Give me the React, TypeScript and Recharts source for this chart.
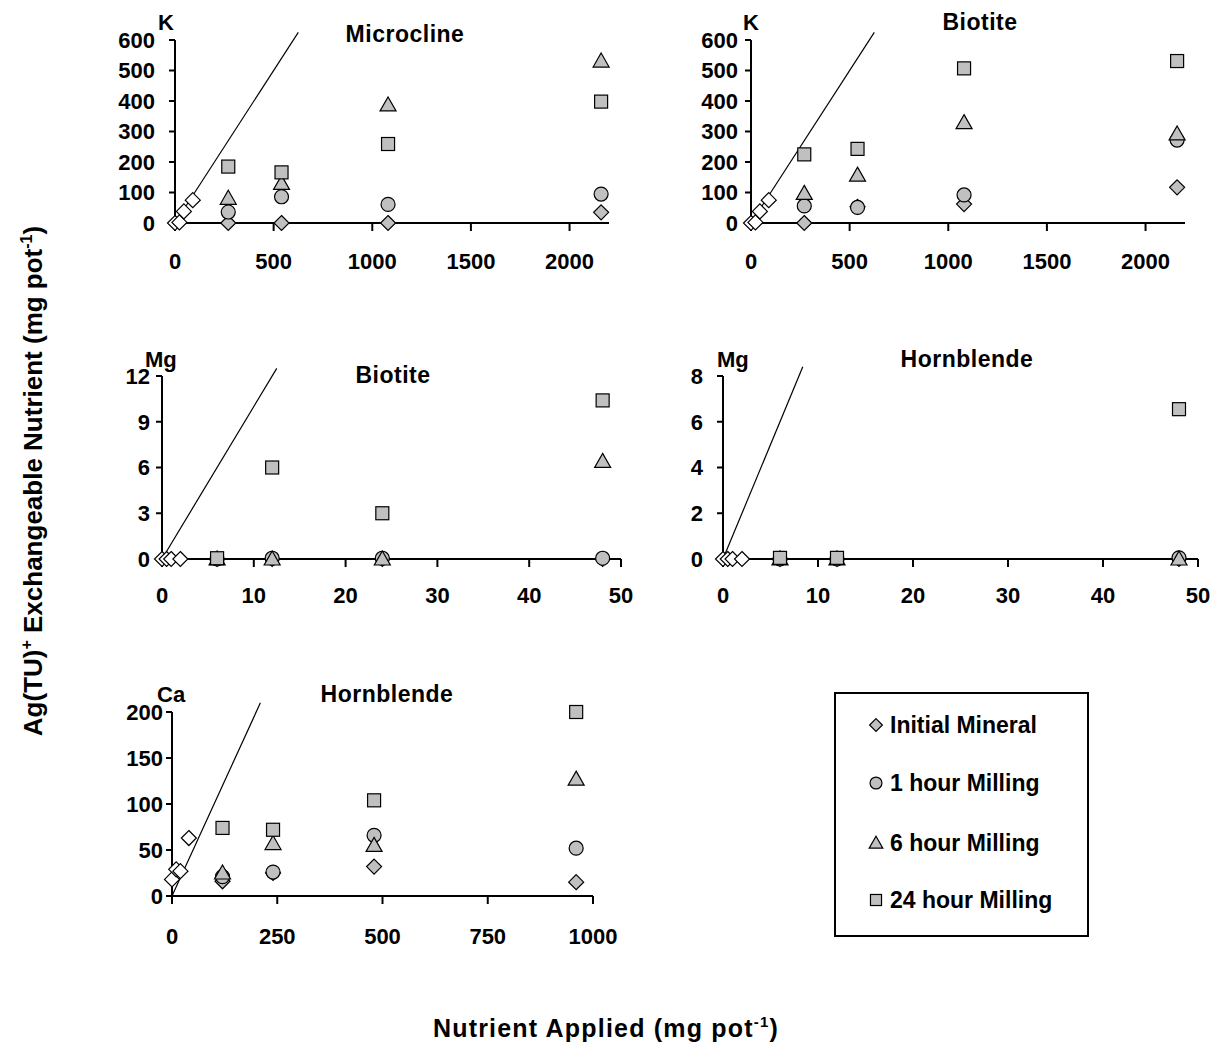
import { ScatterChart, Scatter, XAxis, YAxis, ReferenceLine } from "recharts";

const FONT = "'Liberation Sans', Arial, Helvetica, sans-serif";
const GRAY = "#c0c0c0";

const SERIES_NAMES = ["Initial Mineral", "1 hour Milling", "6 hour Milling", "24 hour Milling"];
const SERIES_SHAPES = ["diamond", "circle", "triangle", "square"];

// applied amounts (mg pot-1)
const K_X = [270, 540, 1080, 2160];
const K_CTRL_X = [0, 22.5, 45, 90];
const MG_X = [6, 12, 24, 48];
const MG_HBL_X = [6, 12, 48];
const MG_CTRL_X = [0, 0.5, 1, 2];
const CA_X = [120, 240, 480, 960];
const CA_CTRL_X = [0, 10, 20, 40];

// K - Microcline
const MIC_K_CTRL = [0, 2, 38, 75];
const MIC_K_INITIAL = [0, 0, 0, 35];
const MIC_K_1H = [36, 86, 61, 95];
const MIC_K_6H = [81, 130, 387, 531];
const MIC_K_24H = [185, 166, 259, 398];

// K - Biotite
const BIO_K_CTRL = [0, 2, 38, 75];
const BIO_K_INITIAL = [0, 53, 62, 117];
const BIO_K_1H = [56, 51, 92, 272];
const BIO_K_6H = [97, 157, 329, 292];
const BIO_K_24H = [225, 243, 507, 531];

// Mg - Biotite
const BIO_MG_CTRL = [0, 0, 0, 0];
const BIO_MG_INITIAL = [0, 0, 0, 0];
const BIO_MG_1H = [0, 0.05, 0.05, 0.05];
const BIO_MG_6H = [0, 0, 0, 6.4];
const BIO_MG_24H = [0.05, 6.0, 3.0, 10.4];

// Mg - Hornblende
const HBL_MG_CTRL = [0, 0, 0, 0];
const HBL_MG_INITIAL = [0, 0, 0];
const HBL_MG_1H = [0, 0, 0.05];
const HBL_MG_6H = [0, 0, 0];
const HBL_MG_24H = [0.05, 0.05, 6.55];

// Ca - Hornblende
const HBL_CA_CTRL = [18, 29, 27, 63];
const HBL_CA_INITIAL = [16, 25, 32, 15];
const HBL_CA_1H = [21, 26, 66, 52];
const HBL_CA_6H = [25, 57, 55, 127];
const HBL_CA_24H = [74, 72, 104, 200];

const K_X_TICKS = [0, 500, 1000, 1500, 2000];
const K_Y_TICKS = [0, 100, 200, 300, 400, 500, 600];
const MG_X_TICKS = [0, 10, 20, 30, 40, 50];
const BIO_MG_Y_TICKS = [0, 3, 6, 9, 12];
const HBL_MG_Y_TICKS = [0, 2, 4, 6, 8];
const CA_X_TICKS = [0, 250, 500, 750, 1000];
const CA_Y_TICKS = [0, 50, 100, 150, 200];

const zip = (xs: number[], ys: number[]) => xs.map((x, i) => ({ x, y: ys[i] }));

function Marker({ kind, cx, cy, fill = GRAY, s = 1 }: any) {
  const common = { fill, stroke: "#000", strokeWidth: 1.2 };
  if (kind === "diamond") {
    const r = 7.5 * s;
    return <polygon {...common} points={`${cx},${cy - r} ${cx + r},${cy} ${cx},${cy + r} ${cx - r},${cy}`} />;
  }
  if (kind === "circle") return <circle {...common} cx={cx} cy={cy} r={7 * s} />;
  if (kind === "triangle") {
    return (
      <polygon
        {...common}
        points={`${cx},${cy - 8 * s} ${cx + 8 * s},${cy + 6 * s} ${cx - 8 * s},${cy + 6 * s}`}
      />
    );
  }
  return <rect {...common} x={cx - 6.5 * s} y={cy - 6.5 * s} width={13 * s} height={13 * s} />;
}

const tickStyle = { fill: "#000", fontSize: 22, fontWeight: 700, fontFamily: FONT };
const axisStroke = { stroke: "#000", strokeWidth: 2 };

interface PanelProps {
  x0: number;
  x1: number;
  yTop: number;
  yBot: number;
  xDomain: number[];
  xTicks: number[];
  yDomain: number[];
  yTicks: number[];
  yTickMargin: number;
  xTickMargin: number;
  lineMax: number;
  ctrlX: number[];
  ctrl: number[];
  xs: number[];
  series: number[][];
}

function Panel(p: PanelProps) {
  const YW = 80;
  const MT = 40;
  const MR = 40;
  const XH = 60;
  const w = p.x1 - p.x0 + YW + MR;
  const h = p.yBot - p.yTop + MT + XH;
  return (
    <div style={{ position: "absolute", left: p.x0 - YW, top: p.yTop - MT }}>
      <ScatterChart width={w} height={h} margin={{ top: MT, right: MR, left: 0, bottom: 0 }}>
        <XAxis
          type="number"
          dataKey="x"
          domain={p.xDomain}
          ticks={p.xTicks}
          interval={0}
          height={XH}
          tickSize={8}
          tickMargin={p.xTickMargin}
          axisLine={axisStroke}
          tickLine={axisStroke}
          tick={tickStyle}
        />
        <YAxis
          type="number"
          dataKey="y"
          domain={p.yDomain}
          ticks={p.yTicks}
          interval={0}
          width={YW}
          tickSize={6}
          tickMargin={p.yTickMargin}
          axisLine={axisStroke}
          tickLine={axisStroke}
          tick={tickStyle}
        />
        <ReferenceLine
          segment={[
            { x: 0, y: 0 },
            { x: p.lineMax, y: p.lineMax },
          ]}
          ifOverflow="visible"
          stroke="#000"
          strokeWidth={1.2}
        />
        <Scatter
          data={zip(p.ctrlX, p.ctrl)}
          isAnimationActive={false}
          shape={(props: any) => <Marker kind="diamond" cx={props.cx} cy={props.cy} fill="#fff" />}
        />
        {p.series.map((ys, i) => (
          <Scatter
            key={SERIES_NAMES[i]}
            name={SERIES_NAMES[i]}
            data={zip(p.xs, ys)}
            isAnimationActive={false}
            shape={(props: any) => <Marker kind={SERIES_SHAPES[i]} cx={props.cx} cy={props.cy} />}
          />
        ))}
      </ScatterChart>
    </div>
  );
}

function Overlay() {
  const t = { fontFamily: FONT, fontWeight: 700, fill: "#000" };
  const legendRows = [725, 783, 843, 900];
  return (
    <svg
      width={1215}
      height={1046}
      style={{ position: "absolute", left: 0, top: 0, pointerEvents: "none" }}
    >
      {/* element labels */}
      <text {...t} fontSize={22} x={158} y={30}>K</text>
      <text {...t} fontSize={22} x={743} y={30}>K</text>
      <text {...t} fontSize={22} x={145} y={367}>Mg</text>
      <text {...t} fontSize={22} x={717} y={367}>Mg</text>
      <text {...t} fontSize={22} x={157} y={702}>Ca</text>
      {/* mineral titles */}
      <text {...t} fontSize={23} x={405} y={42} textAnchor="middle" letterSpacing={0.5}>Microcline</text>
      <text {...t} fontSize={23} x={980} y={30} textAnchor="middle" letterSpacing={0.5}>Biotite</text>
      <text {...t} fontSize={23} x={393} y={383} textAnchor="middle" letterSpacing={0.5}>Biotite</text>
      <text {...t} fontSize={23} x={967} y={367} textAnchor="middle" letterSpacing={0.5}>Hornblende</text>
      <text {...t} fontSize={23} x={387} y={702} textAnchor="middle" letterSpacing={0.5}>Hornblende</text>

      {/* axis titles */}
      <text {...t} fontSize={25} x={606} y={1037} textAnchor="middle" letterSpacing={1.2}>
        Nutrient Applied (mg pot
        <tspan fontSize={15} dy={-10}>-1</tspan>
        <tspan dy={10}>)</tspan>
      </text>
      <text {...t} fontSize={26} transform="rotate(-90 42 481)" x={42} y={481} textAnchor="middle">
        Ag(TU)
        <tspan fontSize={16} dy={-10}>+</tspan>
        <tspan dy={10}> Exchangeable  Nutrient (mg pot</tspan>
        <tspan fontSize={16} dy={-10}>-1</tspan>
        <tspan dy={10}>)</tspan>
      </text>

      {/* legend */}
      <rect x={835} y={693} width={253} height={243} fill="#fff" stroke="#000" strokeWidth={2} />
      {SERIES_NAMES.map((name, i) => (
        <g key={name}>
          <Marker kind={SERIES_SHAPES[i]} cx={876} cy={legendRows[i]} s={0.85} />
          <text {...t} fontSize={23} x={890} y={legendRows[i] + 8}>
            {name}
          </text>
        </g>
      ))}
    </svg>
  );
}

export default function App() {
  return (
    <div style={{ position: "absolute", left: 0, top: 0, width: 1215, height: 1046, background: "#fff" }}>
      <Panel
        x0={175}
        x1={609}
        yTop={40}
        yBot={223}
        xDomain={[0, 2200]}
        xTicks={K_X_TICKS}
        yDomain={[0, 600]}
        yTicks={K_Y_TICKS}
        yTickMargin={14}
        xTickMargin={22}
        lineMax={625}
        ctrlX={K_CTRL_X}
        ctrl={MIC_K_CTRL}
        xs={K_X}
        series={[MIC_K_INITIAL, MIC_K_1H, MIC_K_6H, MIC_K_24H]}
      />
      <Panel
        x0={751}
        x1={1185}
        yTop={40}
        yBot={223}
        xDomain={[0, 2200]}
        xTicks={K_X_TICKS}
        yDomain={[0, 600]}
        yTicks={K_Y_TICKS}
        yTickMargin={7}
        xTickMargin={22}
        lineMax={625}
        ctrlX={K_CTRL_X}
        ctrl={BIO_K_CTRL}
        xs={K_X}
        series={[BIO_K_INITIAL, BIO_K_1H, BIO_K_6H, BIO_K_24H]}
      />
      <Panel
        x0={162}
        x1={621}
        yTop={376}
        yBot={559}
        xDomain={[0, 50]}
        xTicks={MG_X_TICKS}
        yDomain={[0, 12]}
        yTicks={BIO_MG_Y_TICKS}
        yTickMargin={6}
        xTickMargin={20}
        lineMax={12.5}
        ctrlX={MG_CTRL_X}
        ctrl={BIO_MG_CTRL}
        xs={MG_X}
        series={[BIO_MG_INITIAL, BIO_MG_1H, BIO_MG_6H, BIO_MG_24H]}
      />
      <Panel
        x0={723}
        x1={1198}
        yTop={376}
        yBot={559}
        xDomain={[0, 50]}
        xTicks={MG_X_TICKS}
        yDomain={[0, 8]}
        yTicks={HBL_MG_Y_TICKS}
        yTickMargin={14}
        xTickMargin={20}
        lineMax={8.4}
        ctrlX={MG_CTRL_X}
        ctrl={HBL_MG_CTRL}
        xs={MG_HBL_X}
        series={[HBL_MG_INITIAL, HBL_MG_1H, HBL_MG_6H, HBL_MG_24H]}
      />
      <Panel
        x0={172}
        x1={593}
        yTop={712}
        yBot={896}
        xDomain={[0, 1000]}
        xTicks={CA_X_TICKS}
        yDomain={[0, 200]}
        yTicks={CA_Y_TICKS}
        yTickMargin={3}
        xTickMargin={24}
        lineMax={210}
        ctrlX={CA_CTRL_X}
        ctrl={HBL_CA_CTRL}
        xs={CA_X}
        series={[HBL_CA_INITIAL, HBL_CA_1H, HBL_CA_6H, HBL_CA_24H]}
      />
      <Overlay />
    </div>
  );
}
